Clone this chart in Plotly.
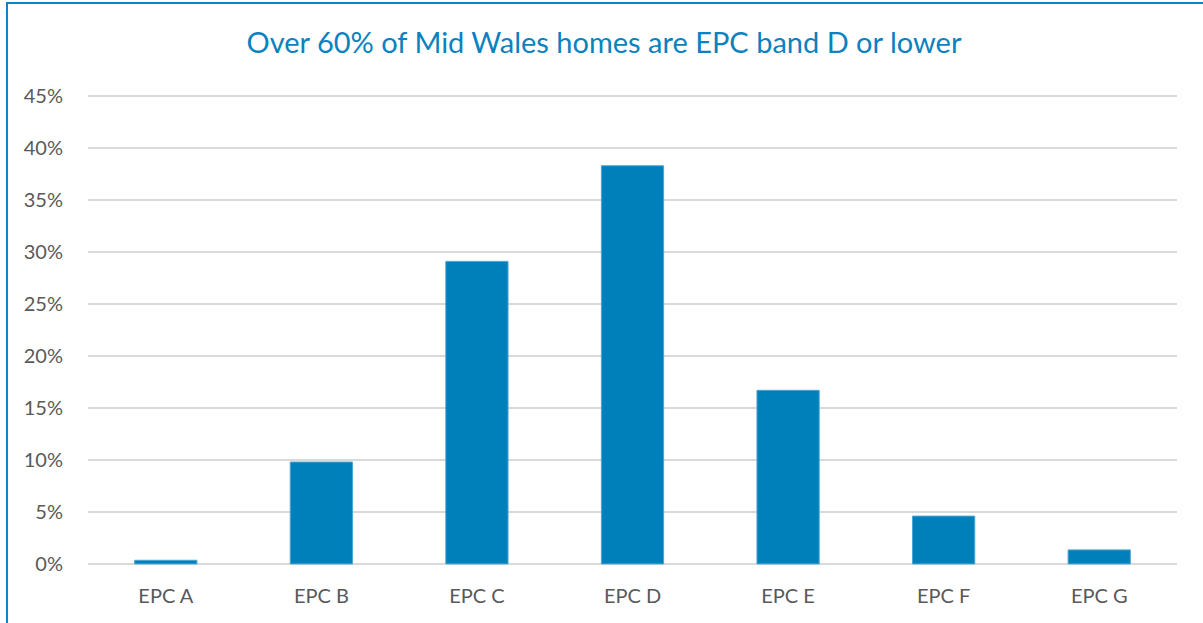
import plotly.graph_objects as go

categories = ["EPC A", "EPC B", "EPC C", "EPC D", "EPC E", "EPC F", "EPC G"]
values = [0.35, 9.8, 29.1, 38.3, 16.7, 4.6, 1.35]
y_ticks = [0, 5, 10, 15, 20, 25, 30, 35, 40, 45]
y_tick_labels = [f"{t}%" for t in y_ticks]
title_text = "Over 60% of Mid Wales homes are EPC band D or lower"

W, H = 1203, 623
pad = 0.2
ml, mr, mt, mb = 88, 26, 94, 57
pw, ph = W - ml - mr, H - mt - mb

fig = go.Figure(go.Bar(
    x=categories, y=values,
    marker=dict(color="#0080ba", line=dict(color="#4aa6d6", width=1)),
    width=0.4,
))

fig.update_layout(
    width=W, height=H,
    margin=dict(l=ml, r=mr, t=mt, b=mb),
    paper_bgcolor="white", plot_bgcolor="white",
    font=dict(family="Lato", color="#595959", size=20),
    title=dict(text=title_text, x=604 / W, xanchor="center", xref="container",
               y=1 - 43 / H, yanchor="middle",
               font=dict(family="Lato", size=29, color="#0a82c0")),
    showlegend=False,
    bargap=0.6,
)
fig.update_yaxes(range=[-pad, 45 + pad], tickvals=y_ticks, ticktext=y_tick_labels,
                 showgrid=True, gridcolor="#d9d9d9", gridwidth=2,
                 zeroline=False, showline=False,
                 ticks="outside", ticklen=20, tickcolor="rgba(0,0,0,0)",
                 fixedrange=True)
fig.update_xaxes(showgrid=False, showline=False, zeroline=False,
                 ticks="outside", ticklen=12, tickcolor="rgba(0,0,0,0)",
                 fixedrange=True)

# chart border (cropped at right and bottom)
bx0 = (7 - ml) / pw
by1 = (H - mb - 3) / ph
fig.add_shape(type="rect", xref="paper", yref="paper",
              x0=bx0, x1=(W + 20 - ml) / pw, y0=-(mb + 20) / ph, y1=by1,
              line=dict(color="#1483c2", width=2), fillcolor="rgba(0,0,0,0)",
              layer="above")

fig.write_html("out.html", config={"displayModeBar": False},
               post_script="document.body.style.margin='0';document.body.style.overflow='hidden';")
